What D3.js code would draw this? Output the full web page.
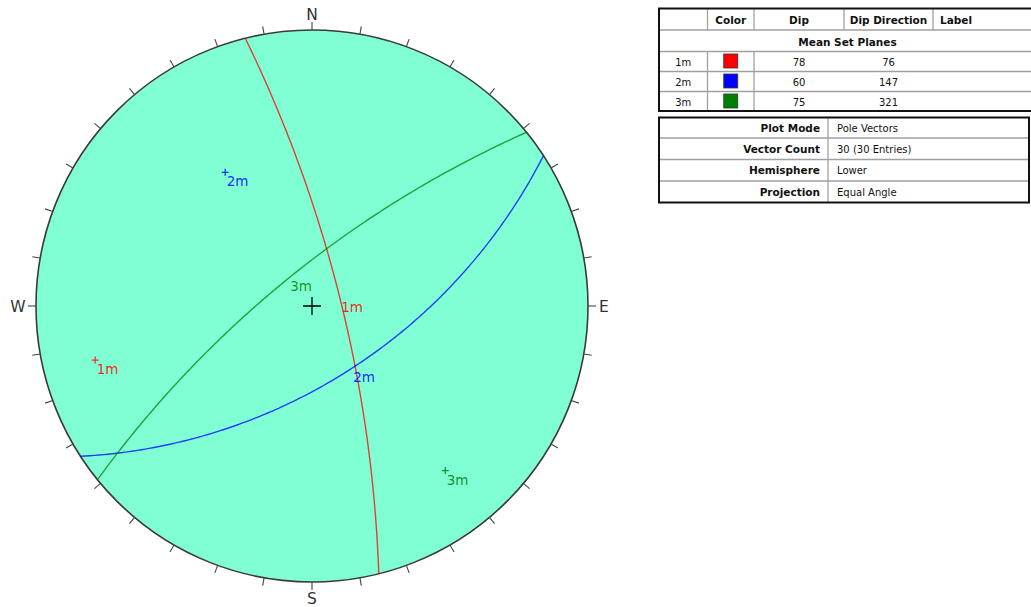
<!DOCTYPE html>
<html>
<head>
<meta charset="utf-8">
<script src="https://cdn.jsdelivr.net/npm/d3@7"></script>
<style>
  html, body { margin: 0; padding: 0; background: #ffffff; }
  svg { display: block; }
  text { font-family: "DejaVu Sans", Verdana, sans-serif; }
</style>
</head>
<body>
<svg id="chart" width="1031" height="607"></svg>
<script>
// Mean set planes
const setLabels = ["1m", "2m", "3m"];
const setColors = ["#ff0000", "#0000ff", "#008000"];
const dips = [78, 60, 75];
const dipDirections = [76, 147, 321];

// Compass directions and tick interval (degrees)
const cardinalLabels = ["N", "E", "S", "W"];
const cardinalAzimuths = [0, 90, 180, 270];
const tickAzimuths = d3.range(0, 360, 10);

// Table contents
const headerLabels = ["", "Color", "Dip", "Dip Direction", "Label"];
const sectionTitle = "Mean Set Planes";
const infoKeys = ["Plot Mode", "Vector Count", "Hemisphere", "Projection"];
const infoValues = ["Pole Vectors", "30 (30 Entries)", "Lower", "Equal Angle"];

const svg = d3.select("#chart");
const deg = Math.PI / 180;

// ---- Stereonet (equal angle, lower hemisphere) ----
const cx = 312, cy = 306, R = 276;
// radial scale: tan(half the angle from the vertical) -> pixels
const rScale = d3.scaleLinear().domain([0, 1]).range([0, R]);

function project(trend, plunge) {
  const r = rScale(Math.tan((90 - plunge) / 2 * deg));
  return [cx + r * Math.sin(trend * deg), cy - r * Math.cos(trend * deg)];
}

// Points along a plane's great circle, from one strike end to the other
function greatCircle(dip, dipDir) {
  const a = dipDir * deg, d = dip * deg, sAz = (dipDir - 90) * deg;
  const s = [Math.cos(sAz), Math.sin(sAz), 0];
  const v = [Math.cos(a) * Math.cos(d), Math.sin(a) * Math.cos(d), Math.sin(d)];
  return d3.range(0, 180.5, 1).map(t => {
    const c = Math.cos(t * deg), sn = Math.sin(t * deg);
    const n = c * s[0] + sn * v[0], e = c * s[1] + sn * v[1], z = c * s[2] + sn * v[2];
    const plunge = Math.asin(Math.max(-1, Math.min(1, z))) / deg;
    const trend = Math.atan2(e, n) / deg;
    return project(trend, plunge);
  });
}

const net = svg.append("g");

net.append("circle")
  .attr("cx", cx).attr("cy", cy).attr("r", R)
  .attr("fill", "#80ffd4")
  .attr("stroke", "#3a3a3a").attr("stroke-width", 1.6);

// Azimuth ticks
net.selectAll("line.tick").data(tickAzimuths).join("line")
  .attr("class", "tick")
  .attr("x1", a => cx + R * Math.sin(a * deg))
  .attr("y1", a => cy - R * Math.cos(a * deg))
  .attr("x2", a => cx + (R + 8) * Math.sin(a * deg))
  .attr("y2", a => cy - (R + 8) * Math.cos(a * deg))
  .attr("stroke", "#444").attr("stroke-width", 1.1);

// Compass labels
const labelPos = [
  { x: cx, y: 19.5, anchor: "middle" },
  { x: 599, y: cy + 5.5, anchor: "start" },
  { x: cx, y: 603.5, anchor: "middle" },
  { x: 25.5, y: cy + 5.5, anchor: "end" }
];
net.selectAll("text.card").data(cardinalLabels).join("text")
  .attr("class", "card")
  .attr("x", (d, i) => labelPos[i].x)
  .attr("y", (d, i) => labelPos[i].y)
  .attr("text-anchor", (d, i) => labelPos[i].anchor)
  .attr("font-size", 15.5)
  .attr("fill", "#333")
  .text(d => d);

// Centre cross
net.append("path")
  .attr("d", `M${cx - 9},${cy}H${cx + 9}M${cx},${cy - 9}V${cy + 9}`)
  .attr("stroke", "#000").attr("stroke-width", 1.3);

const line = d3.line().curve(d3.curveLinear);
const planes = setLabels.map((lab, i) => ({
  label: lab, color: setColors[i], dip: dips[i], dipDir: dipDirections[i]
}));

// Great circles
net.selectAll("path.plane").data(planes).join("path")
  .attr("class", "plane")
  .attr("d", p => line(greatCircle(p.dip, p.dipDir)))
  .attr("fill", "none")
  .attr("stroke", p => p.color)
  .attr("stroke-width", 1.4)
  .attr("stroke-opacity", 0.75);

// Plane labels at the dip vector
net.selectAll("text.planeLabel").data(planes).join("text")
  .attr("class", "planeLabel")
  .attr("x", p => project(p.dipDir, p.dip)[0] + 1)
  .attr("y", p => project(p.dipDir, p.dip)[1] + 13.5)
  .attr("font-size", 13.5)
  .attr("fill", p => p.color)
  .attr("fill-opacity", 0.85)
  .text(p => p.label);

// Poles
const poles = planes.map(p => {
  const [x, y] = project((p.dipDir + 180) % 360, 90 - p.dip);
  return { ...p, x, y };
});
net.selectAll("path.pole").data(poles).join("path")
  .attr("class", "pole")
  .attr("d", p => `M${p.x - 3.5},${p.y}H${p.x + 3.5}M${p.x},${p.y - 3.5}V${p.y + 3.5}`)
  .attr("stroke", p => p.color).attr("stroke-width", 1.3).attr("stroke-opacity", 0.8);
net.selectAll("text.poleLabel").data(poles).join("text")
  .attr("class", "poleLabel")
  .attr("x", p => p.x + 1.5)
  .attr("y", p => p.y + 14)
  .attr("font-size", 13.5)
  .attr("fill", p => p.color)
  .attr("fill-opacity", 0.85)
  .text(p => p.label);

// ---- Mean set planes table ----
const t1 = svg.append("g");
const colEdges = [659, 707.5, 754, 844, 933, 1036];
const rowEdges = [8.5, 30, 51.5, 71.5, 91.5, 111];
const gridColor = "#a0a0a0";

t1.append("rect")
  .attr("x", colEdges[0]).attr("y", rowEdges[0])
  .attr("width", colEdges[5] - colEdges[0]).attr("height", rowEdges[5] - rowEdges[0])
  .attr("fill", "#fff");

// horizontal grid lines
t1.selectAll("line.h").data(rowEdges.slice(1, 5)).join("line")
  .attr("x1", colEdges[0]).attr("x2", colEdges[5])
  .attr("y1", d => d).attr("y2", d => d)
  .attr("stroke", gridColor).attr("stroke-width", 1.3);
// header verticals
t1.selectAll("line.vh").data(colEdges.slice(1, 5)).join("line")
  .attr("x1", d => d).attr("x2", d => d)
  .attr("y1", rowEdges[0]).attr("y2", rowEdges[1])
  .attr("stroke", gridColor).attr("stroke-width", 1.3);
// row verticals
t1.selectAll("line.vr").data(colEdges.slice(1, 3)).join("line")
  .attr("x1", d => d).attr("x2", d => d)
  .attr("y1", rowEdges[2]).attr("y2", rowEdges[5])
  .attr("stroke", gridColor).attr("stroke-width", 1.3);

t1.append("rect")
  .attr("x", colEdges[0]).attr("y", rowEdges[0])
  .attr("width", colEdges[5] - colEdges[0]).attr("height", rowEdges[5] - rowEdges[0])
  .attr("fill", "none").attr("stroke", "#111").attr("stroke-width", 2);

// header text
t1.selectAll("text.head").data(headerLabels).join("text")
  .attr("x", (d, i) => i === 4 ? colEdges[4] + 7 : (colEdges[i] + colEdges[i + 1]) / 2)
  .attr("y", rowEdges[0] + 15)
  .attr("text-anchor", (d, i) => i === 4 ? "start" : "middle")
  .attr("font-size", 10.5).attr("font-weight", "bold").attr("fill", "#111")
  .text(d => d);

t1.append("text")
  .attr("x", (colEdges[0] + colEdges[5]) / 2)
  .attr("y", rowEdges[1] + 15.5)
  .attr("text-anchor", "middle")
  .attr("font-size", 10.5).attr("font-weight", "bold").attr("fill", "#111")
  .text(sectionTitle);

const rows = t1.selectAll("g.row").data(planes).join("g")
  .attr("transform", (d, i) => `translate(0,${rowEdges[i + 2]})`);
rows.append("text")
  .attr("x", (colEdges[0] + colEdges[1]) / 2).attr("y", 14)
  .attr("text-anchor", "middle").attr("font-size", 10).attr("fill", "#111")
  .text(d => d.label);
rows.append("rect")
  .attr("x", (colEdges[1] + colEdges[2]) / 2 - 7).attr("y", 2.5)
  .attr("width", 14).attr("height", 14)
  .attr("fill", d => d.color).attr("stroke", "#333").attr("stroke-width", 0.8);
rows.append("text")
  .attr("x", (colEdges[2] + colEdges[3]) / 2).attr("y", 14)
  .attr("text-anchor", "middle").attr("font-size", 10).attr("fill", "#111")
  .text(d => d.dip);
rows.append("text")
  .attr("x", (colEdges[3] + colEdges[4]) / 2).attr("y", 14)
  .attr("text-anchor", "middle").attr("font-size", 10).attr("fill", "#111")
  .text(d => d.dipDir);

// ---- Plot info table ----
const t2 = svg.append("g");
const t2x = [659, 828, 1029];
const t2y = [117.5, 138, 159.5, 181, 202.5];

t2.append("rect")
  .attr("x", t2x[0]).attr("y", t2y[0])
  .attr("width", t2x[2] - t2x[0]).attr("height", t2y[4] - t2y[0])
  .attr("fill", "#fff");
t2.selectAll("line.h").data(t2y.slice(1, 4)).join("line")
  .attr("x1", t2x[0]).attr("x2", t2x[2])
  .attr("y1", d => d).attr("y2", d => d)
  .attr("stroke", gridColor).attr("stroke-width", 1.3);
t2.append("line")
  .attr("x1", t2x[1]).attr("x2", t2x[1])
  .attr("y1", t2y[0]).attr("y2", t2y[4])
  .attr("stroke", gridColor).attr("stroke-width", 1.3);
t2.append("rect")
  .attr("x", t2x[0]).attr("y", t2y[0])
  .attr("width", t2x[2] - t2x[0]).attr("height", t2y[4] - t2y[0])
  .attr("fill", "none").attr("stroke", "#111").attr("stroke-width", 2);

t2.selectAll("text.key").data(infoKeys).join("text")
  .attr("x", t2x[1] - 8)
  .attr("y", (d, i) => t2y[i] + 14.5)
  .attr("text-anchor", "end")
  .attr("font-size", 10.5).attr("font-weight", "bold").attr("fill", "#111")
  .text(d => d);
t2.selectAll("text.val").data(infoValues).join("text")
  .attr("x", t2x[1] + 9)
  .attr("y", (d, i) => t2y[i] + 14.5)
  .attr("font-size", 10).attr("fill", "#111")
  .text(d => d);
</script>
</body>
</html>
